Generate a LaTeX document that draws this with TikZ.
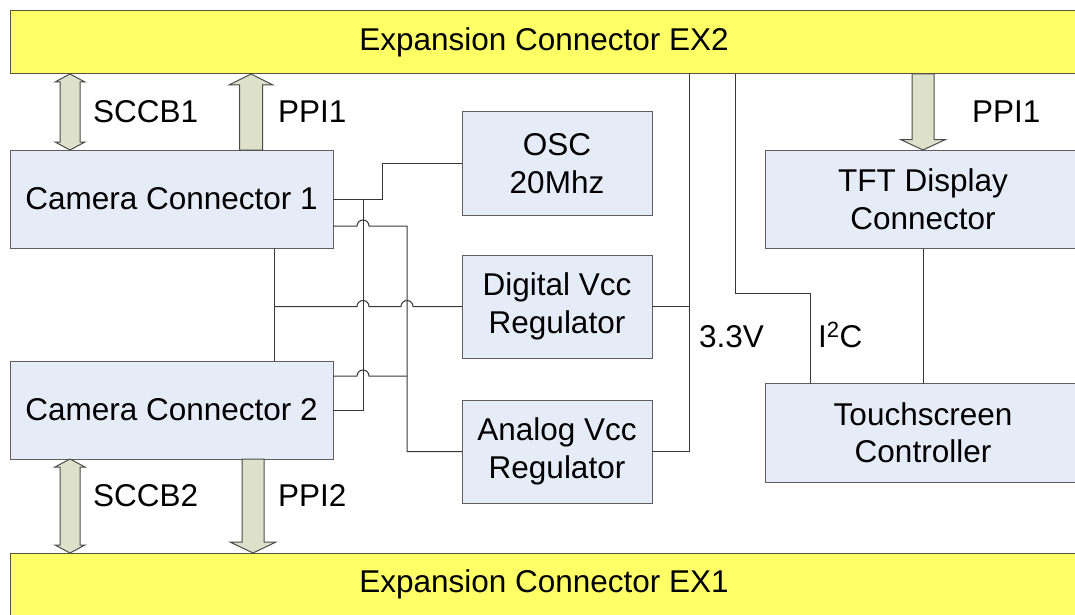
\documentclass[tikz,border=0pt]{standalone}
\usepackage{fontspec}
\setmainfont{Liberation Sans}
\usepackage{tikz}
\usetikzlibrary{calc, positioning}

\definecolor{barfill}{RGB}{255,255,102}
\definecolor{barline}{RGB}{85,85,60}
\definecolor{boxfill}{RGB}{230,236,247}
\definecolor{boxline}{RGB}{95,95,95}
\definecolor{busfill}{RGB}{221,225,202}
\definecolor{busline}{RGB}{75,75,75}
\definecolor{wirecol}{RGB}{55,55,55}

\begin{document}
\begin{tikzpicture}[
            x=1pt, y=-1pt,
            every node/.style={font=\fontsize{31.5}{37.5}\selectfont},
            bar/.style  ={rectangle, draw=barline, fill=barfill, line width=1pt, outer sep=0pt,
                          minimum width=1068pt, minimum height=63.5pt, anchor=north west},
            block/.style={rectangle, draw=boxline, fill=boxfill, line width=1pt, outer sep=0pt,
                          align=center},
            cam/.style  ={block, minimum width=323pt, minimum height=98pt},
            reg/.style  ={block, minimum width=190pt, minimum height=103pt},
            lcd/.style  ={block, minimum width=316pt, minimum height=98.5pt},
            lbl/.style  ={anchor=base west, inner sep=0pt},
            wire/.style ={draw=wirecol, line width=1pt},
            bus/.style  ={draw=busline, fill=busfill, line width=1pt},
            % block arrow, head at the target: {shaft half width}{head half width}{head length}
            onehead/.style n args={3}{to path={
                ($(\tikztostart)!#1!90:(\tikztotarget)$)
                -- ($(\tikztotarget)!#3!(\tikztostart)!#1!-90:(\tikztostart)$)
                -- ($(\tikztotarget)!#3!(\tikztostart)!#2!-90:(\tikztostart)$)
                -- (\tikztotarget)
                -- ($(\tikztotarget)!#3!(\tikztostart)!#2!90:(\tikztostart)$)
                -- ($(\tikztotarget)!#3!(\tikztostart)!#1!90:(\tikztostart)$)
                -- ($(\tikztostart)!#1!-90:(\tikztotarget)$)
                -- cycle}},
            % block arrow, heads at both ends
            twohead/.style n args={3}{to path={
                (\tikztostart)
                -- ($(\tikztostart)!#3!(\tikztotarget)!#2!90:(\tikztotarget)$)
                -- ($(\tikztostart)!#3!(\tikztotarget)!#1!90:(\tikztotarget)$)
                -- ($(\tikztotarget)!#3!(\tikztostart)!#1!-90:(\tikztostart)$)
                -- ($(\tikztotarget)!#3!(\tikztostart)!#2!-90:(\tikztostart)$)
                -- (\tikztotarget)
                -- ($(\tikztotarget)!#3!(\tikztostart)!#2!90:(\tikztostart)$)
                -- ($(\tikztotarget)!#3!(\tikztostart)!#1!90:(\tikztostart)$)
                -- ($(\tikztostart)!#3!(\tikztotarget)!#1!-90:(\tikztotarget)$)
                -- ($(\tikztostart)!#3!(\tikztotarget)!#2!-90:(\tikztotarget)$)
                -- cycle}}
        ]
            \useasboundingbox (0,0) rectangle (1075,615);

            % --- Expansion connectors ---
            \node[bar] (ex2) at (10,10.5) {Expansion Connector EX2};
            \node[bar] (ex1) at (10,553)  {Expansion Connector EX1};

            % --- Cameras ---
            \node[cam, anchor=north west] (cam1) at (10,150) {Camera Connector 1};
            \node[cam, below=113pt of cam1] (cam2) {Camera Connector 2};

            % --- Clock and regulators ---
            \node[reg, anchor=north west] (osc) at (462,112) {OSC\\20Mhz};
            \node[reg, below=40pt of osc]     (digital) {Digital Vcc\\Regulator};
            \node[reg, below=42pt of digital] (analog)  {Analog Vcc\\Regulator};

            % --- Display side ---
            \node[lcd, anchor=north west] (tft) at (765,150) {TFT Display\\Connector};
            \node[lcd, below=135pt of tft] (touch) {Touchscreen\\Controller};

            % --- Labels ---
            \node[lbl] (lsccb1) at (93,122)  {SCCB1};
            \node[lbl] (lppi1)  at (278,122) {PPI1};
            \node[lbl] (lppi3)  at (972,122) {PPI1};
            \node[lbl] (lsccb2) at (93,506)  {SCCB2};
            \node[lbl] (lppi2)  at (278,506) {PPI2};
            \node[lbl] (lvcc)   at (699,347) {3.3V};
            \node[lbl] (li2c)   at (818,347) {I\textsuperscript{2}C};

            % --- Helper points ---
            \coordinate (sccbx)  at (70,0);
            \coordinate (ppiax)  at (251,0);
            \coordinate (ppibx)  at (253,0);
            \coordinate (clk)    at (363,199);
            \coordinate (clkx)   at (382,0);
            \coordinate (anax)   at (407,0);
            \coordinate (pwrx)   at (274,0);
            \coordinate (pwr)    at (digital.west -| pwrx);
            \coordinate (vccx)   at (689,0);
            \coordinate (i2cbend) at (735,293);
            \coordinate (i2cx)   at (810,0);
            \coordinate (c1a)    at ([yshift=-27pt]cam1.east);
            \coordinate (c2a)    at ([yshift=34pt]cam2.east);

            % --- Buses ---
            \path[bus] (ex2.south -| sccbx) to[twohead={10pt}{15pt}{8pt}] (cam1.north -| sccbx);
            \path[bus] (cam1.north -| ppiax) to[onehead={11.5pt}{22pt}{11pt}] (ex2.south -| ppiax);
            \path[bus] (ex2.south -| tft.north) to[onehead={11pt}{22.5pt}{10.5pt}] (tft.north);
            \path[bus] (cam2.south -| sccbx) to[twohead={10pt}{15pt}{8pt}] (ex1.north -| sccbx);
            \path[bus] (cam2.south -| ppibx) to[onehead={11pt}{23pt}{11pt}] (ex1.north -| ppibx);

            % --- Clock to both cameras ---
            \draw[wire] (cam1.east) -- (cam1.east -| clkx) |- (osc.west);
            \draw[wire] (cam2.east) -| (clk);

            % --- Analog supply (hops over the clock line) ---
            \draw[wire] (c1a) -- ++(24,0) arc[start angle=180, end angle=0, radius=6pt]
                -| (anax |- analog.west) -- (analog.west);
            \draw[wire] (c2a) -- ++(24,0) arc[start angle=180, end angle=0, radius=6pt]
                -- (c2a -| anax);

            % --- Digital supply ---
            \draw[wire] (cam1.south -| pwr) -- (cam2.north -| pwr);
            \draw[wire] (pwr) -- ++(83,0) arc[start angle=180, end angle=0, radius=6pt]
                -- ++(32,0) arc[start angle=180, end angle=0, radius=6pt] -- (digital.west);

            % --- 3.3V rail ---
            \draw[wire] (ex2.south -| vccx) |- (analog.east);
            \draw[wire] (digital.east) -- (digital.east -| vccx);

            % --- I2C and display ---
            \draw[wire] (ex2.south -| i2cbend) -- (i2cbend) -| (touch.north -| i2cx);
            \draw[wire] (tft.south) -- (touch.north);
        \end{tikzpicture}
\end{document}
